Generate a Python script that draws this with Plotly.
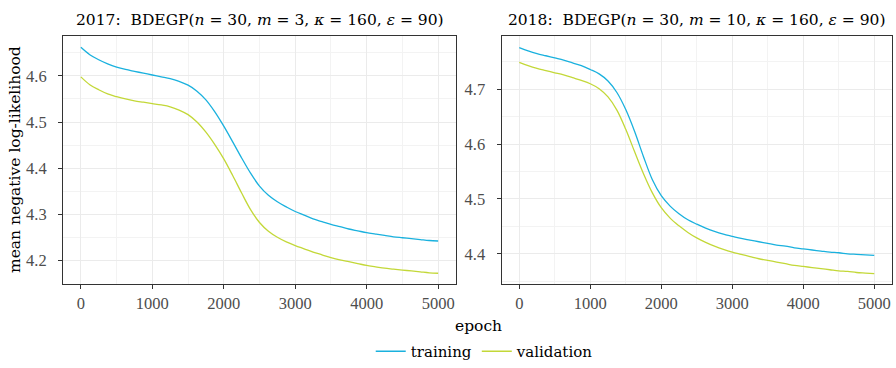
import plotly.graph_objects as go

# Mean negative log-likelihood over training epochs (sampled every 125 epochs)
epochs = list(range(0, 5001, 125))

train_2017 = [4.662, 4.646, 4.635, 4.626, 4.619, 4.614, 4.610, 4.606, 4.602, 4.598,
              4.594, 4.588, 4.580, 4.567, 4.548, 4.522, 4.491, 4.457, 4.422, 4.389,
              4.361, 4.341, 4.327, 4.316, 4.306, 4.298, 4.290, 4.284, 4.278, 4.273,
              4.268, 4.264, 4.260, 4.257, 4.254, 4.251, 4.249, 4.247, 4.245, 4.243, 4.242]
valid_2017 = [4.598, 4.581, 4.570, 4.561, 4.555, 4.550, 4.546, 4.543, 4.540, 4.537,
              4.533, 4.526, 4.516, 4.500, 4.478, 4.451, 4.420, 4.384, 4.346, 4.310,
              4.282, 4.263, 4.250, 4.240, 4.232, 4.225, 4.218, 4.212, 4.206, 4.201,
              4.197, 4.193, 4.189, 4.186, 4.183, 4.181, 4.179, 4.177, 4.175, 4.173, 4.172]

train_2018 = [4.776, 4.770, 4.765, 4.761, 4.757, 4.753, 4.748, 4.743, 4.736, 4.728,
              4.715, 4.694, 4.663, 4.623, 4.577, 4.535, 4.506, 4.487, 4.473, 4.462,
              4.454, 4.447, 4.441, 4.436, 4.432, 4.428, 4.425, 4.422, 4.419, 4.416,
              4.414, 4.411, 4.409, 4.407, 4.405, 4.403, 4.402, 4.400, 4.399, 4.398, 4.397]
valid_2018 = [4.749, 4.743, 4.738, 4.734, 4.730, 4.726, 4.721, 4.716, 4.710, 4.701,
              4.686, 4.662, 4.627, 4.586, 4.546, 4.511, 4.484, 4.465, 4.451, 4.439,
              4.429, 4.421, 4.414, 4.408, 4.403, 4.399, 4.395, 4.391, 4.388, 4.385,
              4.382, 4.379, 4.377, 4.375, 4.373, 4.371, 4.369, 4.368, 4.366, 4.365, 4.364]

x_ticks = [0, 1000, 2000, 3000, 4000, 5000]
y_ticks_2017 = [4.2, 4.3, 4.4, 4.5, 4.6]
y_ticks_2018 = [4.4, 4.5, 4.6, 4.7]

panel_titles = [
    "2017:  BDEGP(<i>n</i> = 30, <i>m</i> = 3, <i>κ</i> = 160, <i>ε</i> = 90)",
    "2018:  BDEGP(<i>n</i> = 30, <i>m</i> = 10, <i>κ</i> = 160, <i>ε</i> = 90)",
]

C_TRAIN = "#1AB1DE"
C_VALID = "#C3D838"
TEXT_FONT = "DejaVu Serif"
NUM_FONT = "Liberation Serif"
TICK_GREY = "#4D4D4D"

fig = go.Figure()

for i, (tr, va) in enumerate([(train_2017, valid_2017), (train_2018, valid_2018)]):
    xa = "x" if i == 0 else "x2"
    ya = "y" if i == 0 else "y2"
    fig.add_trace(go.Scatter(x=epochs, y=tr, mode="lines", name="training",
                             line=dict(color=C_TRAIN, width=1.3, shape="spline", smoothing=1.0),
                             xaxis=xa, yaxis=ya, showlegend=(i == 0), legendgroup="training"))
    fig.add_trace(go.Scatter(x=epochs, y=va, mode="lines", name="validation",
                             line=dict(color=C_VALID, width=1.3, shape="spline", smoothing=1.0),
                             xaxis=xa, yaxis=ya, showlegend=(i == 0), legendgroup="validation"))

axis_common = dict(
    showline=True, mirror=True, linecolor="#333333", linewidth=1,
    ticks="outside", ticklen=4, tickcolor="#333333", tickwidth=1,
    showgrid=True, gridcolor="#EBEBEB", gridwidth=1,
    zeroline=False,
    tickfont=dict(family=NUM_FONT, size=16.5, color=TICK_GREY),
)
minor_x = dict(dtick=500, tick0=0, showgrid=True, gridcolor="#F3F3F3", gridwidth=0.6)
minor_y = dict(dtick=0.05, tick0=4.0, showgrid=True, gridcolor="#F3F3F3", gridwidth=0.6)

xdom = [[63 / 896, 456 / 896], [501.5 / 896, 892 / 896]]
ydom = [1 - 284 / 368, 1 - 36 / 368]

fig.update_layout(
    xaxis=dict(domain=xdom[0], range=[-250, 5250], tickvals=x_ticks, minor=minor_x,
               anchor="y", ticklabelstandoff=0, **axis_common),
    xaxis2=dict(domain=xdom[1], range=[-250, 5250], tickvals=x_ticks, minor=minor_x,
                anchor="y2", ticklabelstandoff=0, **axis_common),
    yaxis=dict(domain=ydom, range=[4.1487, 4.6866], tickvals=y_ticks_2017, tickformat=".1f",
               minor=minor_y, anchor="x", ticklabelstandoff=8, **axis_common),
    yaxis2=dict(domain=ydom, range=[4.345, 4.797], tickvals=y_ticks_2018, tickformat=".1f",
                minor=minor_y, anchor="x2", ticklabelstandoff=8, **axis_common),
    width=896, height=368,
    margin=dict(l=0, r=0, t=0, b=0),
    paper_bgcolor="white", plot_bgcolor="white",
    font=dict(family=TEXT_FONT, size=15, color="black"),
    legend=dict(orientation="h", x=0.541, xanchor="center", y=0, yanchor="bottom",
                font=dict(family=TEXT_FONT, size=15, color="black"),
                itemwidth=30, bgcolor="rgba(0,0,0,0)"),
    showlegend=True,
)

annotations = []
for i, t in enumerate(panel_titles):
    cx = (xdom[i][0] + xdom[i][1]) / 2
    annotations.append(dict(text=t, x=cx, y=1 - 20 / 368, xref="paper", yref="paper",
                            xanchor="center", yanchor="middle", showarrow=False,
                            font=dict(family=TEXT_FONT, size=15.5, color="black")))
annotations.append(dict(text="epoch", x=478 / 896, y=1 - 326 / 368, xref="paper", yref="paper",
                        xanchor="center", yanchor="middle", showarrow=False,
                        font=dict(family=TEXT_FONT, size=15.5, color="black")))
annotations.append(dict(text="mean negative log-likelihood", x=15 / 896, y=1 - 160 / 368,
                        xref="paper", yref="paper", xanchor="center", yanchor="middle",
                        textangle=-90, showarrow=False,
                        font=dict(family=TEXT_FONT, size=15.5, color="black")))
fig.update_layout(annotations=annotations)

fig.write_html("out.html")
